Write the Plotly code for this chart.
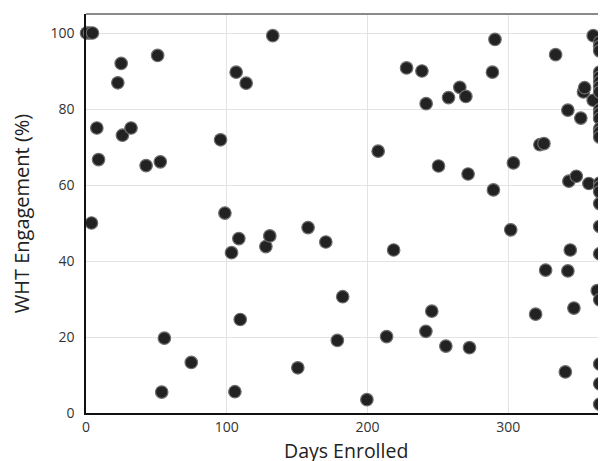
import plotly.graph_objects as go

days_enrolled = [
    0.4, 2.5, 4.6, 3.9, 7.7, 8.9, 22.6, 25, 25.9, 32, 42.7, 50.9, 52.8,
    55.7, 53.8, 74.8, 95.6, 98.7, 106.7, 113.8, 132.7, 103.4, 108.6, 127.8, 130.6,
    109.6, 105.8, 150.5, 157.8, 170.4, 182.4, 178.6, 199.6, 207.6, 213.6, 218.6,
    227.8, 238.7, 241.7, 250.5, 257.6, 265.6, 269.9, 271.5, 241.5, 245.7, 255.7, 272.5,
    288.8, 290.6, 289.5, 301.8, 303.7, 319.5, 322.5, 325.4, 326.6, 333.7,
    340.6, 342.4, 342.4, 343.1, 344.1, 346.7, 348.4, 351.6, 353.5, 354.3, 357.3,
    360.4, 360.4, 363.3,
    365, 365, 365, 365, 365, 365, 365, 365, 365, 365, 365, 365, 365, 365,
    365, 365, 365, 365, 365, 365, 365, 365, 365, 365,
]
wht_engagement = [
    100, 100, 100, 50, 75, 66.7, 86.9, 92, 73.1, 75, 65.1, 94.1, 66.1,
    19.7, 5.5, 13.3, 71.9, 52.6, 89.7, 86.8, 99.3, 42.2, 45.9, 43.8, 46.6,
    24.6, 5.6, 11.9, 48.8, 45, 30.6, 19.1, 3.5, 68.9, 20.1, 42.9,
    90.8, 90, 81.4, 65, 83, 85.7, 83.3, 62.9, 21.5, 26.8, 17.6, 17.2,
    89.7, 98.3, 58.7, 48.2, 65.8, 26, 70.6, 70.9, 37.6, 94.3,
    10.8, 37.4, 79.7, 61, 42.9, 27.6, 62.3, 77.6, 84.5, 85.6, 60.4,
    99.3, 82.3, 32.2,
    97.6, 96.5, 95.3, 89.7, 88.4, 87.1, 85.8, 84.5, 79.8, 78.8, 77.5, 74.8, 73.9, 72.6,
    60.5, 59.5, 58.2, 55.1, 49.1, 41.9, 29.8, 12.9, 7.7, 2.3,
]

x_ticks = [0, 100, 200, 300]
y_ticks = [0, 20, 40, 60, 80, 100]
x_title = "Days Enrolled"
y_title = "WHT Engagement (%)"

fig = go.Figure(go.Scatter(
    x=days_enrolled, y=wht_engagement, mode="markers",
    marker=dict(size=12.5, color="#222222", line=dict(color="#6e6e6e", width=1.2)),
    cliponaxis=False, hoverinfo="x+y",
))

font_family = "Open Sans, DejaVu Sans, sans-serif"
# the page body adds an 8px offset, so the figure is 8px smaller than the window
fig.update_layout(
    width=598, height=453,
    margin=dict(l=78, r=0, t=6, b=48, autoexpand=False),
    paper_bgcolor="white", plot_bgcolor="white",
    showlegend=False,
    font=dict(family=font_family, color="#333333", size=14),
    shapes=[dict(type="line", xref="paper", yref="paper", x0=0, x1=1, y0=1, y1=1,
                 line=dict(color="#8a8a8a", width=2))],
    annotations=[dict(text=x_title, xref="paper", yref="paper", x=0.5, y=0,
                      xanchor="center", yanchor="top", yshift=-22, showarrow=False,
                      font=dict(size=19.5, color="#222222"))],
)
fig.update_xaxes(
    range=[0, 369.5], tickvals=x_ticks, showgrid=True, gridcolor="#e3e3e3", gridwidth=1,
    showline=True, linecolor="#111111", linewidth=1.5, zeroline=False, ticks="",
    tickfont=dict(size=14, color="#333333"), automargin=False,
)
fig.update_yaxes(
    range=[0, 105], tickvals=y_ticks, showgrid=True, gridcolor="#e3e3e3", gridwidth=1,
    showline=True, linecolor="#111111", linewidth=1.5, zeroline=False, ticks="",
    tickfont=dict(size=14, color="#333333"), ticklabelstandoff=7, automargin=False,
    title=dict(text=y_title, font=dict(size=20, color="#222222"), standoff=16),
)

fig.write_html("out.html")
